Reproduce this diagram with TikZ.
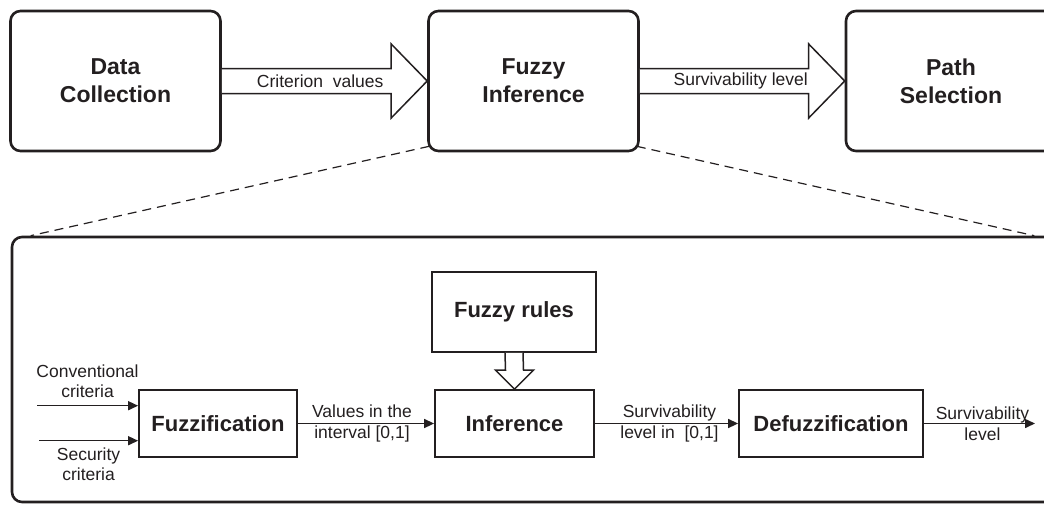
\documentclass[tikz,border=0pt]{standalone}
\usepackage{fontspec}
\setmainfont{Liberation Sans}
\usetikzlibrary{arrows.meta,calc}
\definecolor{ink}{RGB}{35,31,32}
\begin{document}
\begin{tikzpicture}[x=1pt,y=-1pt,
  every node/.style={text=ink},
  stage/.style={draw=ink,line width=2.6pt,rounded corners=10pt,
    minimum width=210pt,minimum height=140pt,inner sep=0pt,align=center,
    font=\fontsize{23}{28}\selectfont\bfseries},
  frame/.style={draw=ink,line width=2.6pt,rounded corners=10pt,inner sep=0pt},
  block/.style={draw=ink,line width=1.8pt,inner sep=0pt,align=center,
    minimum height=67pt,font=\fontsize{22}{26}\selectfont\bfseries},
  lab/.style={font=\fontsize{17.5}{20.5}\selectfont,align=center,inner sep=1pt},
  fatarrow/.style={draw=ink,line width=1.5pt,fill=white,line join=miter},
  flow/.style={draw=ink,line width=1.5pt,-{Triangle[length=10pt,width=9pt]}},
  zoomline/.style={draw=ink,line width=1.2pt,dash pattern=on 9pt off 6pt}]
\useasboundingbox (0,0) rectangle (1044,504);
\clip (0,0) rectangle (1044,504);

% top-level pipeline
\node[stage] (dc) at (115.5,81) {Data\\Collection};
\node[stage] (fi) at (533.5,81) {Fuzzy\\Inference};
\node[stage] (ps) at (951,81) {Path\\Selection};

\draw[fatarrow] ($(dc.east)+(0,-12.5)$) -- ($(fi.west)+(-36,-12.5)$)
  -- ($(fi.west)+(-36,-37)$) -- (fi.west) -- ($(fi.west)+(-36,37)$)
  -- ($(fi.west)+(-36,12.5)$) -- ($(dc.east)+(0,12.5)$);
\node[lab] (cv) at ($(fi.west)+(-107,0)$) {Criterion~ values};

\draw[fatarrow] ($(fi.east)+(0,-12.5)$) -- ($(ps.west)+(-36,-12.5)$)
  -- ($(ps.west)+(-36,-37)$) -- (ps.west) -- ($(ps.west)+(-36,37)$)
  -- ($(ps.west)+(-36,12.5)$) -- ($(fi.east)+(0,12.5)$);
\node[lab] (sl) at ($(ps.west)+(-104,0)$) {Survivability level};

% expanded view of the fuzzy inference stage
\node[frame,minimum width=1044pt,minimum height=265pt] (big) at (534,369.5) {};
\draw[zoomline] ($(fi.south west)+(2,-6)$) -- ($(big.north west)+(20,0)$);
\draw[zoomline] ($(fi.south east)+(-3,-6)$) -- ($(big.north east)+(-23,0)$);

\node[block,minimum width=158pt] (fz) at (218,423.5) {Fuzzification};
\node[block,minimum width=159pt] (inf) at (514.5,423.5) {Inference};
\node[block,minimum width=164pt,minimum height=80pt] (fr) at (514,312) {Fuzzy rules};
\node[block,minimum width=184pt] (df) at (831,423.5) {Defuzzification};

\draw[fatarrow] ($(fr.south)+(-9,0)$) -- ($(inf.north)+(-9,-19)$)
  -- ($(inf.north)+(-19,-19)$) -- (inf.north) -- ($(inf.north)+(19,-19)$)
  -- ($(inf.north)+(9,-19)$) -- ($(fr.south)+(9,0)$);

\coordinate (cin) at (37,405.7);
\coordinate (sin) at (39,440.7);
\coordinate (out) at (1035,423.5);

\draw[flow] (cin) -- (cin -| fz.west)
  node[lab,midway,above=6pt] {Conventional\\criteria};
\draw[flow] (sin) -- (sin -| fz.west)
  node[lab,midway,below=5pt] {Security\\criteria};
\draw[flow] (fz) -- (inf)
  node[lab,midway,xshift=-4pt] {Values in the\\interval [0,1]};
\draw[flow] (inf) -- (df)
  node[lab,midway,xshift=3pt] {Survivability\\level in~ [0,1]};
\draw[flow] (df) -- (out)
  node[lab,midway,xshift=3pt] {Survivability\\level};
\end{tikzpicture}
\end{document}
